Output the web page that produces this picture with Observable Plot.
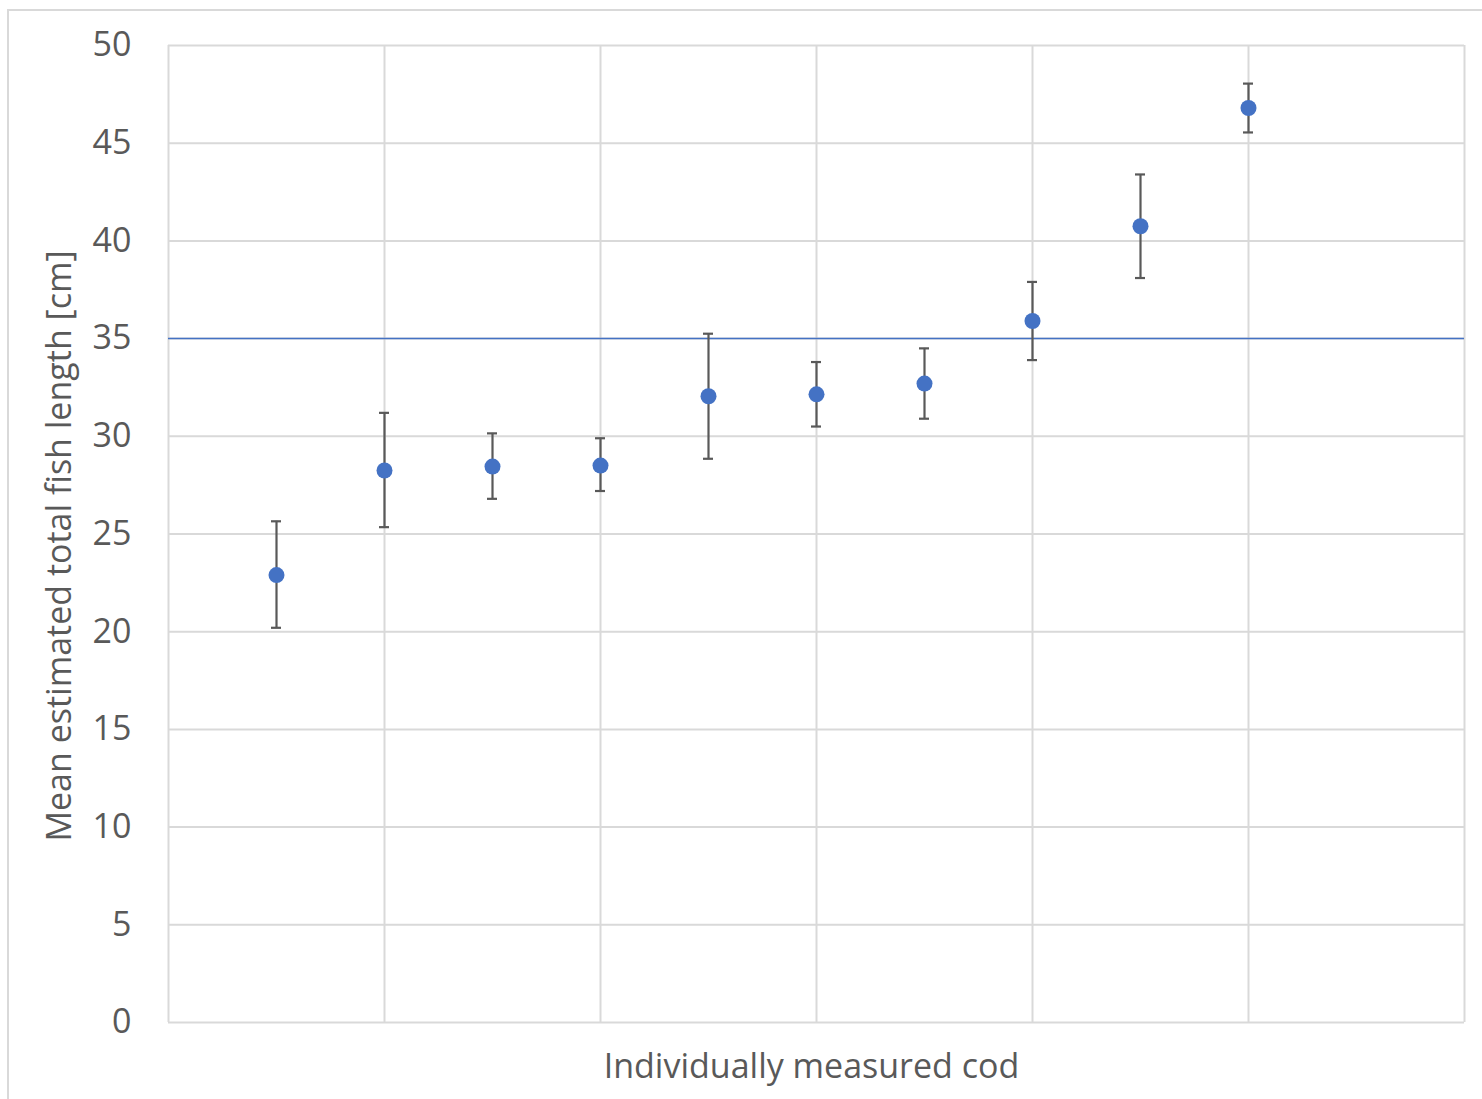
<!DOCTYPE html>
<html>
<head>
<meta charset="utf-8">
<script src="https://cdn.jsdelivr.net/npm/d3@7"></script>
<script src="https://cdn.jsdelivr.net/npm/@observablehq/plot@0.6"></script>
<style>
  html, body { margin: 0; padding: 0; background: #fff; }
  #wrap { position: relative; width: 1482px; height: 1099px; overflow: hidden; }
  #border { position: absolute; left: 7px; top: 9px; width: 1500px; height: 1200px;
            border-left: 2px solid #d9d9d9; border-top: 2px solid #d9d9d9; pointer-events: none; }
  svg { display: block; }
</style>
</head>
<body>
<div id="wrap"><div id="border"></div></div>
<script>
const fishIndex = [1, 2, 3, 4, 5, 6, 7, 8, 9, 10];
const meanLength = [22.9, 28.25, 28.45, 28.5, 32.05, 32.15, 32.7, 35.9, 40.75, 46.8];
const lowerLength = [20.2, 25.35, 26.8, 27.2, 28.85, 30.5, 30.9, 33.9, 38.1, 45.55];
const upperLength = [25.65, 31.2, 30.15, 29.9, 35.25, 33.8, 34.5, 37.9, 43.4, 48.05];
const referenceLength = [35];
const yTicks = [0, 5, 10, 15, 20, 25, 30, 35, 40, 45, 50];
const xGrid = [0, 2, 4, 6, 8, 10, 12];
const yLabel = ["Mean estimated total fish length [cm]"];
const xLabel = ["Individually measured cod"];

const data = fishIndex.map((f, i) => ({
  fish: f, mean: meanLength[i], lo: lowerLength[i], hi: upperLength[i]
}));

const errColor = "#595959";
const chart = Plot.plot({
  width: 1482,
  height: 1099,
  marginLeft: 168,
  marginRight: 18,
  marginTop: 45,
  marginBottom: 77,
  style: { fontFamily: "'Open Sans', sans-serif", fontSize: "34px", color: "#595959", background: "transparent" },
  x: { type: "linear", domain: [0, 12], axis: null },
  y: { type: "linear", domain: [0, 50] },
  marks: [
    Plot.ruleX(xGrid, { stroke: "#d9d9d9", strokeWidth: 2 }),
    Plot.ruleY(yTicks, { stroke: "#d9d9d9", strokeWidth: 2 }),
    Plot.axisY(yTicks, { tickSize: 0, tickPadding: 37, fill: "#595959", label: null }),
    Plot.text(yLabel, { text: d => d, frameAnchor: "left", rotate: -90, dx: -108, dy: 12,
      textAnchor: "middle", lineAnchor: "middle", fill: "#595959", fontSize: 34 }),
    Plot.text(xLabel, { text: d => d, frameAnchor: "bottom", dx: -5, dy: 45,
      textAnchor: "middle", lineAnchor: "middle", fill: "#595959", fontSize: 34 }),
    Plot.ruleY(referenceLength, { stroke: "#4472c4", strokeWidth: 1.5 }),
    Plot.ruleX(data, { x: "fish", y1: "lo", y2: "hi", stroke: errColor, strokeWidth: 2.2 }),
    Plot.ruleY(data, { y: "lo", x1: "fish", x2: "fish", insetLeft: -5, insetRight: -5, stroke: errColor, strokeWidth: 2.2 }),
    Plot.ruleY(data, { y: "hi", x1: "fish", x2: "fish", insetLeft: -5, insetRight: -5, stroke: errColor, strokeWidth: 2.2 }),
    Plot.dot(data, { x: "fish", y: "mean", r: 8, fill: "#4472c4", stroke: "none" })
  ]
});

document.getElementById("wrap").appendChild(chart);
</script>
</body>
</html>
